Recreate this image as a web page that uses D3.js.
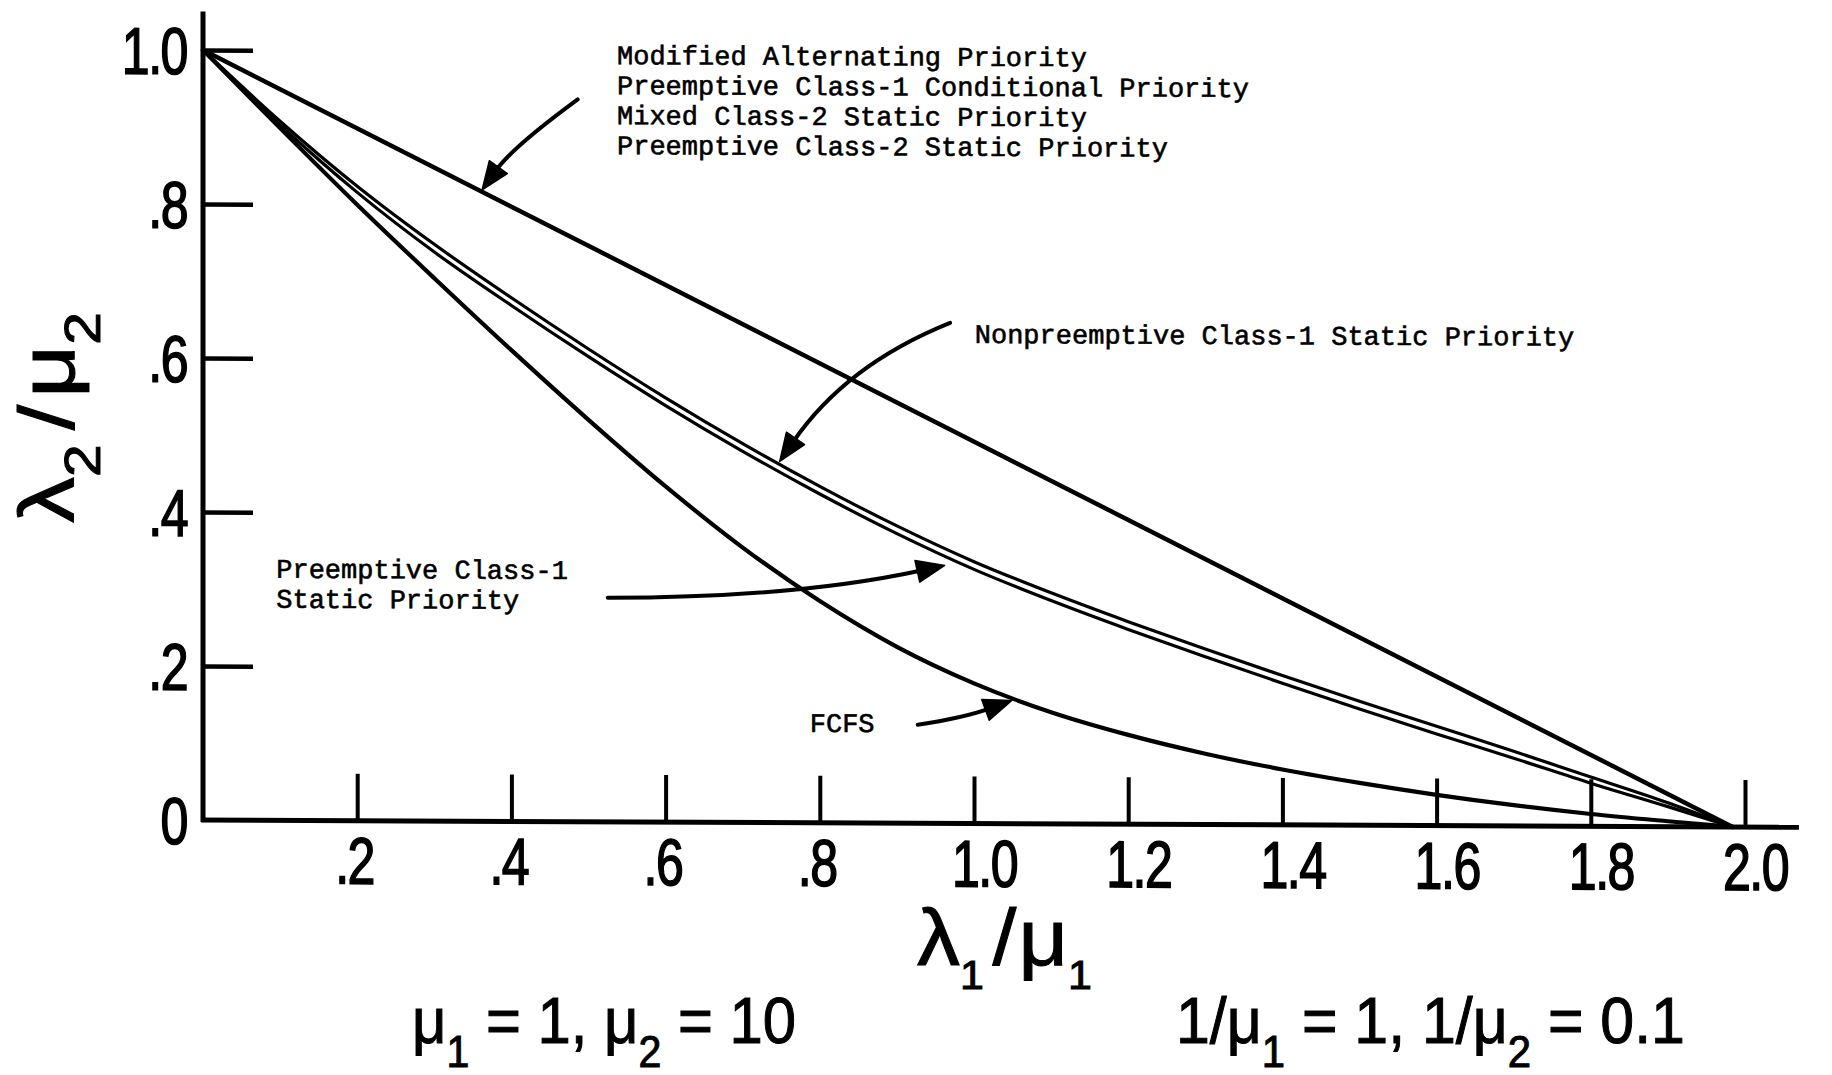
<!DOCTYPE html>
<html>
<head>
<meta charset="utf-8">
<title>Throughput regions for two-class priority disciplines</title>
<script src="https://cdn.jsdelivr.net/npm/d3@7"></script>
<style>
  html, body { margin: 0; padding: 0; background: #fff; }
  svg { display: block; }
</style>
</head>
<body>
<svg id="chart" width="1832" height="1075"></svg>
<script>
// ---------------------------------------------------------------------------
// Data: boundary curves in (λ1/μ1, λ2/μ2) units
// ---------------------------------------------------------------------------
const xTickValues = [0.2, 0.4, 0.6, 0.8, 1.0, 1.2, 1.4, 1.6, 1.8, 2.0];
const xTickLabels = [".2", ".4", ".6", ".8", "1.0", "1.2", "1.4", "1.6", "1.8", "2.0"];
const yTickValues = [0, 0.2, 0.4, 0.6, 0.8, 1.0];
const yTickLabels = ["0", ".2", ".4", ".6", ".8", "1.0"];

// alternating / conditional / class-2 static priority: one straight boundary
const alternatingX = [0, 1.984];
const alternatingY = [1, 0];

// class-1 static priority (nonpreemptive lies just above preemptive)
const priorityX      = [0, 0.1, 0.2, 0.3, 0.4, 0.5, 0.6, 0.7, 0.8, 0.9, 1.0, 1.1, 1.2, 1.3, 1.4, 1.5, 1.6, 1.7, 1.8, 1.9, 1.984];
const nonpreemptiveY = [1, 0.908, 0.824, 0.749, 0.680, 0.614, 0.551, 0.492, 0.437, 0.386, 0.340, 0.300, 0.263, 0.228, 0.194, 0.161, 0.129, 0.097, 0.064, 0.031, 0];
const preemptiveY    = [1, 0.903, 0.816, 0.739, 0.670, 0.604, 0.541, 0.482, 0.427, 0.376, 0.330, 0.290, 0.253, 0.218, 0.184, 0.151, 0.119, 0.088, 0.056, 0.026, 0];

// first-come first-served
const fcfsX = [0, 0.1, 0.2, 0.3, 0.4, 0.5, 0.6, 0.7, 0.8, 0.9, 1.0, 1.1, 1.2, 1.3, 1.4, 1.5, 1.6, 1.7, 1.8, 1.9, 1.984];
const fcfsY = [1, 0.899, 0.800, 0.705, 0.612, 0.522, 0.436, 0.357, 0.288, 0.229, 0.182, 0.145, 0.116, 0.092, 0.072, 0.055, 0.040, 0.027, 0.016, 0.007, 0];

// callout texts, their anchor points and arrows (data units)
const calloutTexts = [
  ["Modified Alternating Priority",
   "Preemptive Class-1 Conditional Priority",
   "Mixed Class-2 Static Priority",
   "Preemptive Class-2 Static Priority"],
  ["Nonpreemptive Class-1 Static Priority"],
  ["Preemptive Class-1", "Static Priority"],
  ["FCFS"]
];
const calloutAt  = [[0.537, 0.984], [1.001, 0.624], [0.095, 0.315], [0.787, 0.118]];
const arrowFrom  = [[0.486, 0.938], [0.969, 0.650], [0.525, 0.291], [0.927, 0.128]];
const arrowBend  = [[0.401, 0.875], [0.834, 0.595], [0.768, 0.292], [0.986, 0.137]];
const arrowTo    = [[0.362, 0.820], [0.748, 0.469], [0.962, 0.335], [1.049, 0.160]];

// ---------------------------------------------------------------------------
// Drawing
// ---------------------------------------------------------------------------
const INK = "#000";
const LETTER_FONT = "'Liberation Sans', Arimo, Arial, sans-serif";
const TYPE_FONT = "'Liberation Mono', 'DejaVu Sans Mono', monospace";

const svg = d3.select("#chart");
svg.append("rect").attr("width", 1832).attr("height", 1075).attr("fill", "#fff");

const x = d3.scaleLinear().domain([0, 2]).range([203, 1745]);
const y = d3.scaleLinear().domain([0, 1]).range([820, 50]);

// the drawing sits on a baseline that drops a little toward the right
const slant = 0.26;
const plot = svg.append("g")
  .attr("transform",
    `translate(${x(0)},${y(0)}) skewY(${slant}) translate(${-x(0)},${-y(0)})`);

// axis lines (run a little past the last tick)
plot.append("line")
  .attr("x1", x(0)).attr("y1", y(0) + 2)
  .attr("x2", x(0)).attr("y2", y(1.05))
  .attr("stroke", INK).attr("stroke-width", 5);
plot.append("line")
  .attr("x1", x(0) - 2).attr("y1", y(0))
  .attr("x2", x(2.07)).attr("y2", y(0))
  .attr("stroke", INK).attr("stroke-width", 5);

// inward ticks
plot.append("g")
  .attr("transform", `translate(${x(0)},0)`)
  .call(d3.axisLeft(y).tickValues(yTickValues.filter(v => v > 0)).tickSize(-50).tickFormat(""))
  .call(g => g.select(".domain").remove())
  .call(g => g.selectAll(".tick line").attr("stroke", INK).attr("stroke-width", 4.5));

plot.append("g")
  .attr("transform", `translate(0,${y(0)})`)
  .call(d3.axisBottom(x).tickValues(xTickValues).tickSize(-47).tickFormat(""))
  .call(g => g.select(".domain").remove())
  .call(g => g.selectAll(".tick line").attr("stroke", INK).attr("stroke-width", 4));

// tick labels in narrow lettering
const TICK_SIZE = 66, TICK_SQUEEZE = 0.76;
plot.append("g").selectAll("g")
  .data(yTickValues)
  .join("g")
  .attr("transform", v => `translate(${x(0) - 16},${y(v) + 24}) scale(${TICK_SQUEEZE},1)`)
  .append("text")
  .attr("text-anchor", "end")
  .attr("font-family", LETTER_FONT)
  .attr("font-size", TICK_SIZE)
  .attr("letter-spacing", -2)
  .attr("fill", INK)
  .attr("stroke", INK)
  .attr("stroke-width", 1.6)
  .text((v, i) => yTickLabels[i]);

plot.append("g").selectAll("g")
  .data(xTickValues)
  .join("g")
  .attr("transform", v => `translate(${x(v) - 22},${y(0) + 63}) scale(${TICK_SQUEEZE},1)`)
  .append("text")
  .attr("text-anchor", "start")
  .attr("font-family", LETTER_FONT)
  .attr("font-size", TICK_SIZE)
  .attr("letter-spacing", -2)
  .attr("fill", INK)
  .attr("stroke", INK)
  .attr("stroke-width", 1.6)
  .text((v, i) => xTickLabels[i]);

// boundary curves
const curve = d3.line()
  .x(d => x(d[0]))
  .y(d => y(d[1]))
  .curve(d3.curveMonotoneX);

const curves = [
  { xs: alternatingX, ys: alternatingY, width: 4.5 },
  { xs: priorityX, ys: nonpreemptiveY, width: 3.2 },
  { xs: priorityX, ys: preemptiveY, width: 3.2 },
  { xs: fcfsX, ys: fcfsY, width: 4.2 }
];

plot.append("g").selectAll("path")
  .data(curves)
  .join("path")
  .attr("d", c => curve(c.xs.map((v, i) => [v, c.ys[i]])))
  .attr("fill", "none")
  .attr("stroke", INK)
  .attr("stroke-width", c => c.width)
  .attr("stroke-linejoin", "round")
  .attr("stroke-linecap", "round");

// callout arrows: curved shaft ending in a filled head
const HEAD_LEN = 28, HEAD_HALF = 11;
const arrows = plot.append("g");
arrowFrom.forEach((from, i) => {
  const S = [x(from[0]), y(from[1])];
  const C = [x(arrowBend[i][0]), y(arrowBend[i][1])];
  const T = [x(arrowTo[i][0]), y(arrowTo[i][1])];
  const len = Math.hypot(T[0] - C[0], T[1] - C[1]);
  const ux = (T[0] - C[0]) / len, uy = (T[1] - C[1]) / len;
  const B = [T[0] - ux * HEAD_LEN, T[1] - uy * HEAD_LEN];

  const shaft = d3.path();
  shaft.moveTo(S[0], S[1]);
  shaft.quadraticCurveTo(C[0], C[1], B[0] + ux * 4, B[1] + uy * 4);
  arrows.append("path")
    .attr("d", shaft.toString())
    .attr("fill", "none")
    .attr("stroke", INK)
    .attr("stroke-width", 4)
    .attr("stroke-linecap", "round");

  const head = d3.path();
  head.moveTo(T[0], T[1]);
  head.lineTo(B[0] - uy * HEAD_HALF, B[1] + ux * HEAD_HALF);
  head.lineTo(B[0] + uy * HEAD_HALF, B[1] - ux * HEAD_HALF);
  head.closePath();
  arrows.append("path")
    .attr("d", head.toString())
    .attr("fill", INK)
    .attr("stroke", INK)
    .attr("stroke-width", 1.5)
    .attr("stroke-linejoin", "round");
});

// typed callout labels
const LINE_GAP = 30;
calloutTexts.forEach((lines, i) => {
  const t = plot.append("text")
    .attr("x", x(calloutAt[i][0]))
    .attr("y", y(calloutAt[i][1]))
    .attr("font-family", TYPE_FONT)
    .attr("font-size", 27)
    .attr("fill", INK)
    .attr("stroke", INK)
    .attr("stroke-width", 0.6)
    .style("white-space", "pre");
  lines.forEach((line, k) => {
    t.append("tspan")
      .attr("x", x(calloutAt[i][0]))
      .attr("dy", k === 0 ? 0 : LINE_GAP)
      .text(line);
  });
});

// ---------------------------------------------------------------------------
// Lettered titles (Greek symbols with subscripts), fitted to a set width
// ---------------------------------------------------------------------------
function lettering(parent, parts, o) {
  const g = parent.append("g");
  const t = g.append("text")
    .attr("font-family", LETTER_FONT)
    .attr("font-size", o.size)
    .attr("fill", INK)
    .attr("stroke", INK)
    .attr("stroke-width", o.weight || 0)
    .style("white-space", "pre");
  let shift = 0;
  parts.forEach(p => {
    const target = p.sub ? o.subDrop : 0;
    const ts = t.append("tspan").attr("dy", target - shift).text(p.t);
    if (p.sub) ts.attr("font-size", o.subSize);
    if (p.gap) ts.attr("dx", p.gap);
    shift = target;
  });
  const bb = t.node().getBBox();
  t.attr("x", -bb.x);
  const s = o.width / bb.width;
  g.attr("transform", `translate(${o.x},${o.y}) rotate(${o.rotate || 0}) scale(${s},1)`);
  return g;
}

const LAMBDA = "\u03bb", MU = "\u03bc";

// vertical axis title: λ2/μ2
lettering(svg, [
  { t: LAMBDA }, { t: "2", sub: true }, { t: "/", gap: 12 }, { t: MU, gap: 6 }, { t: "2", sub: true }
], { x: 74, y: 523, width: 211, size: 78, subSize: 50, subDrop: 26, rotate: -90, weight: 1 });

// horizontal axis title: λ1/μ1
lettering(svg, [
  { t: LAMBDA }, { t: "1", sub: true }, { t: "/", gap: 8 }, { t: MU, gap: 2 }, { t: "1", sub: true }
], { x: 917, y: 965, width: 175, size: 80, subSize: 40, subDrop: 24, weight: 1 });

// parameter notes
lettering(svg, [
  { t: MU }, { t: "1", sub: true }, { t: " = 1, " }, { t: MU }, { t: "2", sub: true }, { t: " = 10" }
], { x: 412, y: 1043, width: 384, size: 64, subSize: 44, subDrop: 24, weight: 1 });

lettering(svg, [
  { t: "1/" + MU }, { t: "1", sub: true }, { t: " = 1, 1/" + MU }, { t: "2", sub: true }, { t: " = 0.1" }
], { x: 1176, y: 1043, width: 509, size: 64, subSize: 44, subDrop: 24, weight: 1 });
</script>
</body>
</html>
